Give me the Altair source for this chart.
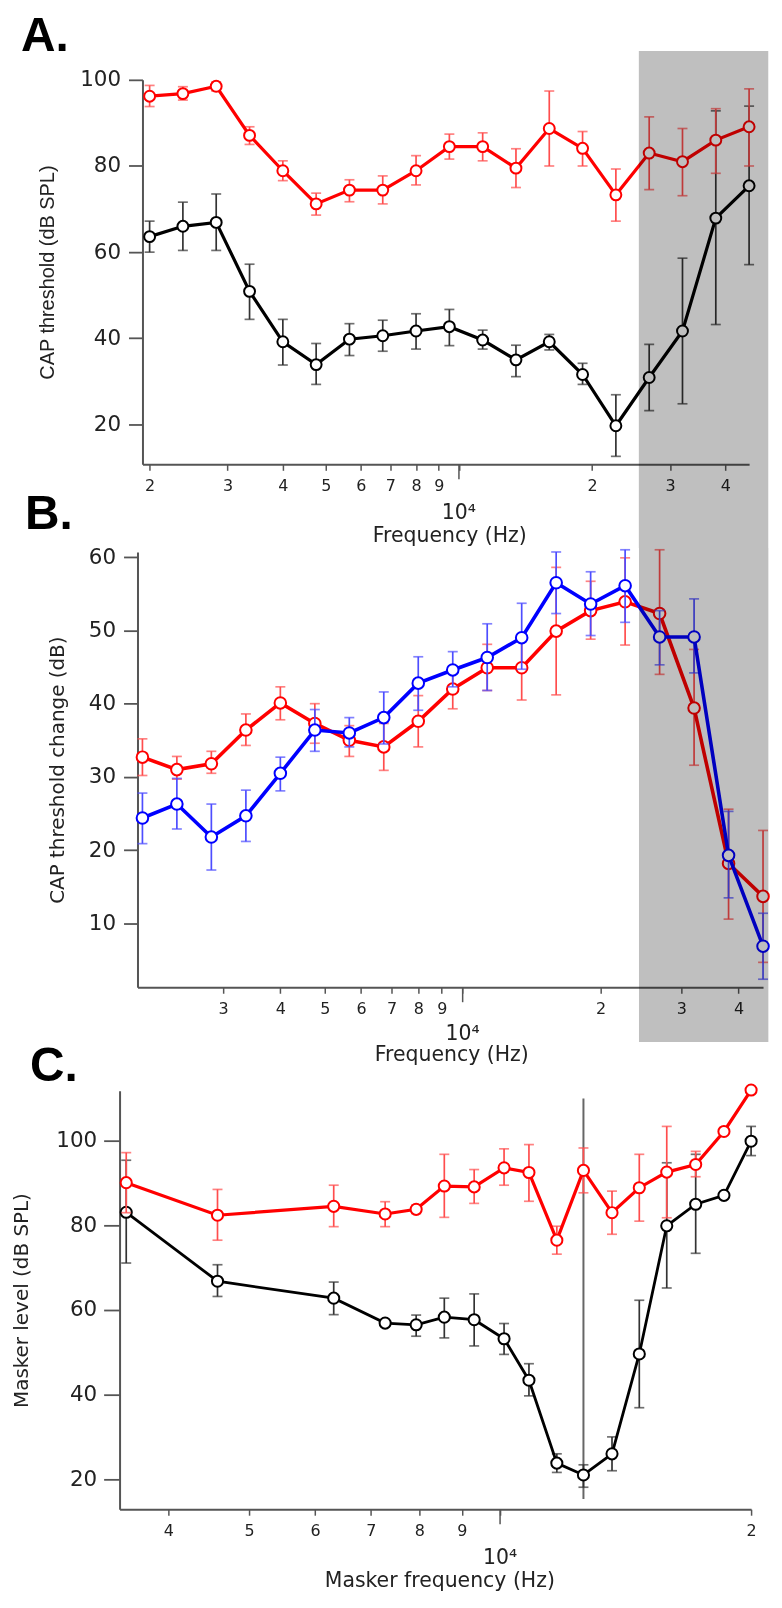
import altair as alt
import pandas as pd

# ---------------- data ----------------
# Panels A and B: probe frequencies (Hz)
freq_ab = [2000, 2378, 2828, 3364, 4000, 4757, 5657, 6727, 8000, 9514,
           11314, 13454, 16000, 19027, 22627, 26909, 32000, 38055, 45255]

# Panel A: CAP threshold (dB SPL)
a_red = [96.2, 96.8, 98.5, 87.1, 78.9, 71.2, 74.4, 74.4, 78.9, 84.5,
         84.5, 79.5, 88.7, 84.1, 73.3, 83.0, 81.0, 86.0, 89.1]
a_red_hi = [98.7, 98.4, 99.5, 89.1, 81.2, 73.7, 76.8, 77.7, 82.4, 87.4,
            87.7, 84.0, 97.4, 88.0, 79.3, 91.4, 88.7, 93.3, 97.9]
a_red_lo = [93.8, 95.3, 97.4, 85.0, 76.6, 68.6, 71.7, 71.2, 75.6, 81.6,
            81.2, 75.0, 80.0, 80.0, 67.2, 74.5, 73.1, 78.3, 80.0]
a_black = [63.6, 66.0, 66.9, 50.9, 39.2, 33.9, 39.8, 40.6, 41.7, 42.7,
           39.6, 35.0, 39.2, 31.6, 19.7, 30.9, 41.7, 67.9, 75.4]
a_black_hi = [67.2, 71.6, 73.5, 57.2, 44.4, 38.8, 43.4, 44.2, 45.7, 46.7,
              41.9, 38.4, 40.9, 34.2, 26.9, 38.6, 58.6, 92.8, 93.9]
a_black_lo = [60.0, 60.4, 60.4, 44.4, 33.8, 29.3, 36.0, 37.0, 37.5, 38.3,
              37.5, 31.1, 37.3, 29.3, 12.6, 23.2, 24.8, 43.2, 57.1]

# Panel B: CAP threshold change (dB)
b_red = [32.7, 31.0, 31.8, 36.4, 40.1, 37.3, 35.0, 34.1, 37.6, 42.0,
         44.9, 44.9, 49.9, 52.7, 53.9, 52.3, 39.4, 18.2, 13.7]
b_red_hi = [35.2, 32.8, 33.5, 38.6, 42.3, 40.0, 37.0, 37.3, 41.1, 44.3,
            48.1, 49.3, 58.6, 56.7, 59.9, 61.0, 47.4, 25.6, 22.7]
b_red_lo = [30.2, 29.7, 30.5, 34.3, 37.8, 34.6, 32.8, 30.9, 34.1, 39.3,
            41.8, 40.5, 41.2, 48.8, 48.0, 44.0, 31.6, 10.6, 4.7]
b_blue = [24.4, 26.3, 21.8, 24.7, 30.5, 36.4, 36.0, 38.1, 42.8, 44.6,
          46.3, 49.0, 56.5, 53.6, 56.1, 49.1, 49.1, 19.3, 6.9]
b_blue_hi = [27.8, 29.8, 26.3, 28.2, 32.7, 39.2, 38.1, 41.6, 46.4, 47.1,
             50.9, 53.7, 60.7, 58.0, 61.0, 52.7, 54.3, 25.3, 11.4]
b_blue_lo = [20.9, 22.9, 17.3, 21.2, 28.1, 33.5, 34.1, 34.5, 39.1, 42.3,
             41.8, 44.7, 52.3, 49.3, 51.1, 45.3, 44.2, 13.5, 2.4]

# Panel C: masker frequencies (Hz) and masker level (dB SPL)
freq_c = [3562, 4583, 6317, 7281, 7932, 8573, 9310, 10111, 10830, 11697,
          12589, 13622, 14688, 15845, 17163, 18556, 20000]
c_red = [90.1, 82.4, 84.5, 82.7, 83.8, 89.3, 89.1, 93.6, 92.5, 76.5,
         93.0, 83.0, 88.9, 92.6, 94.4, 102.2, 112.0]
c_red_hi = [97.2, 88.5, 89.5, 85.6, 84.8, 96.8, 93.2, 98.1, 99.1, 79.8,
            98.3, 88.1, 96.8, 103.4, 97.5, 102.2, 112.0]
c_red_lo = [83.0, 76.5, 79.7, 79.7, 82.8, 81.9, 85.2, 89.5, 85.7, 73.2,
            87.7, 77.9, 81.0, 81.8, 91.5, 102.2, 112.0]
c_black = [83.1, 66.8, 62.8, 56.9, 56.5, 58.3, 57.7, 53.2, 43.4, 23.8,
           21.0, 26.0, 49.6, 79.9, 85.0, 87.1, 99.9]
c_black_hi = [95.4, 70.7, 66.6, 57.5, 58.8, 62.8, 63.8, 56.8, 47.3, 26.0,
              23.4, 30.0, 62.3, 94.8, 96.8, 87.1, 103.4]
c_black_lo = [71.1, 63.2, 58.9, 56.3, 53.8, 53.4, 51.5, 49.5, 39.7, 21.6,
              18.1, 22.0, 36.9, 65.2, 73.4, 87.1, 96.5]

# shaded frequency band (Hz) in panels A and B, probe line in C
band_a = [25500, 50000]
band_b = [24260, 46480]
probe_freq = [12589]
probe_top = [110.0]
probe_bottom = [15.3]

# axis ticks
ticks_a = [2000, 3000, 4000, 5000, 6000, 7000, 8000, 9000, 10000, 20000, 30000, 40000]
ticks_b = [3000, 4000, 5000, 6000, 7000, 8000, 9000, 10000, 20000, 30000, 40000]
ticks_c = [4000, 5000, 6000, 7000, 8000, 9000, 10000, 20000]
decade_label = ["10\u2074"]
letters = ["A.", "B.", "C."]

# ---------------- styling ----------------
GRAY = "#555555"
TXT = "#222222"
LABEL_EXPR = ("datum.value == 10000 ? '' : format(datum.value < 10000 ? "
              "datum.value / 1000 : datum.value / 10000, 'd')")
ONE = pd.DataFrame({"k": [0]})


def xaxis(ticks, title, title_x, title_y):
    return alt.Axis(values=ticks, labelExpr=LABEL_EXPR, tickSize=6, tickWidth=1.5,
                    tickColor=GRAY, domainColor=GRAY, domainWidth=2, labelPadding=7,
                    labelFont="DejaVu Sans", labelFontSize=16, labelColor=TXT,
                    labelFlush=False, labelOverlap=False, grid=False,
                    title=title, titleFont="DejaVu Sans", titleFontSize=20.5,
                    titleFontWeight="normal", titleColor=TXT, titleX=title_x,
                    titleY=title_y, titleBaseline="alphabetic", titleAlign="center")


def yaxis(values, title, title_x, title_font, tick, pad, offset=0):
    return alt.Axis(values=values, tickSize=tick, tickWidth=1.8, tickColor=GRAY,
                    domainColor=GRAY, domainWidth=2, labelPadding=pad,
                    labelFont="DejaVu Sans", labelFontSize=21.5, labelColor=TXT,
                    labelFlush=False, grid=False, offset=offset, title=title,
                    titleFont=title_font, titleFontSize=20, titleFontWeight="normal",
                    titleColor=TXT, titleX=title_x)


def series(freq, val, lo, hi, color, ecolor, lw, X, Y, size):
    df = pd.DataFrame({"f": freq, "v": val, "lo": lo, "hi": hi})
    base = alt.Chart(df)
    return [
        base.mark_rule(color=ecolor, strokeWidth=1.7).encode(x=X, y=Y("lo"), y2="hi"),
        base.mark_tick(color=ecolor, orient="horizontal", size=10, thickness=1.7).encode(x=X, y=Y("lo")),
        base.mark_tick(color=ecolor, orient="horizontal", size=10, thickness=1.7).encode(x=X, y=Y("hi")),
        base.mark_line(color=color, strokeWidth=lw).encode(x=X, y=Y("v")),
        base.mark_point(shape="circle", filled=True, fill="white", stroke=color,
                        strokeWidth=2, size=size, opacity=1).encode(x=X, y=Y("v")),
    ]


def letter(text, x, y):
    return alt.Chart(pd.DataFrame({"t": [text]})).mark_text(
        font="Liberation Sans", fontWeight="bold", fontSize=48, align="left",
        baseline="alphabetic", color="black").encode(text="t:N", x=alt.value(x), y=alt.value(y))


def decade(X_h, y):
    return alt.Chart(pd.DataFrame({"t": decade_label, "f": [10000]})).mark_text(
        font="DejaVu Sans", fontSize=20.5, align="center", baseline="alphabetic",
        color=TXT).encode(text="t:N", x=alt.X("f:Q"), y=alt.value(y))


def long_tick(h):
    return alt.Chart(pd.DataFrame({"f": [10000]})).mark_rule(
        color=GRAY, strokeWidth=1.5).encode(x=alt.X("f:Q"), y=alt.value(h), y2=alt.value(h + 15))


# ---------------- panel A ----------------
HA, WA = 386, 609
XA = alt.X("f:Q", scale=alt.Scale(type="log", domain=[1927, 45255], nice=False, zero=False),
           axis=xaxis(ticks_a, "Frequency (Hz)", 308, 77))


def YA(field):
    return alt.Y(field + ":Q", scale=alt.Scale(domain=[10.75, 100], nice=False, zero=False),
                 axis=yaxis([20, 40, 60, 80, 100], "CAP threshold (dB SPL)", -85,
                            "Liberation Sans", 14, 8))


band_a_chart = alt.Chart(pd.DataFrame({"lo": [band_a[0]], "hi": [band_a[1]]})).mark_rect(
    color="#bfbfbf", blend="multiply").encode(x="lo:Q", x2="hi:Q", y=alt.value(-29), y2=alt.value(470))

spacer = alt.Chart(ONE).mark_rule(color="white", strokeWidth=0).encode(
    x=alt.value(-135), y=alt.value(-69), y2=alt.value(-60))

panel_a = alt.layer(
    spacer,
    *series(freq_ab, a_black, a_black_lo, a_black_hi, "black", "#333333", 3.2, XA, YA, 120),
    *series(freq_ab, a_red, a_red_lo, a_red_hi, "#ff0000", "#ff4d4d", 3.2, XA, YA, 120),
    long_tick(HA),
    decade(XA, HA + 55),
    band_a_chart,
    letter(letters[0], -122, -29),
).properties(width=WA, height=HA)

# ---------------- panel B ----------------
HB, WB = 437, 623
XB = alt.X("f:Q", scale=alt.Scale(type="log", domain=[1951, 45255], range=[-5, 623],
                                  nice=False, zero=False),
           axis=xaxis(ticks_b, "Frequency (Hz)", 310, 74))


def YB(field):
    return alt.Y(field + ":Q", scale=alt.Scale(domain=[1.3, 60.7], nice=False, zero=False),
                 axis=yaxis([10, 20, 30, 40, 50, 60], "CAP threshold change (dB)", -70,
                            "DejaVu Sans", 14, 8, offset=5))


band_b_chart = alt.Chart(pd.DataFrame({"lo": [band_b[0]], "hi": [band_b[1]]})).mark_rect(
    color="#bfbfbf", blend="multiply").encode(x="lo:Q", x2="hi:Q", y=alt.value(-4), y2=alt.value(492))

panel_b = alt.layer(
    *series(freq_ab, b_red, b_red_lo, b_red_hi, "#ff0000", "#ff4d4d", 3.6, XB, YB, 135),
    *series(freq_ab, b_blue, b_blue_lo, b_blue_hi, "#0000ff", "#4d4dff", 3.6, XB, YB, 135),
    long_tick(HB),
    decade(XB, HB + 53),
    band_b_chart,
    letter(letters[1], -118, -23),
).properties(width=WB, height=HB)

# ---------------- panel C ----------------
HC, WC = 436, 611
XC = alt.X("f:Q", scale=alt.Scale(type="log", domain=[3497, 20000], range=[-23, 611],
                                  nice=False, zero=False),
           axis=xaxis(ticks_c, "Masker frequency (Hz)", 298, 78))


def YC(field):
    return alt.Y(field + ":Q", scale=alt.Scale(domain=[12.9, 111.8], range=[436, 16],
                                               nice=False, zero=False),
                 axis=yaxis([20, 40, 60, 80, 100], "Masker level  (dB SPL)", -88,
                            "DejaVu Sans", 16, 7, offset=23))


probe = alt.Chart(pd.DataFrame({"f": probe_freq, "top": probe_top, "bot": probe_bottom})).mark_rule(
    color="#666666", strokeWidth=2).encode(x=XC, y=YC("top"), y2="bot")

panel_c = alt.layer(
    probe,
    *series(freq_c, c_black, c_black_lo, c_black_hi, "black", "#333333", 2.8, XC, YC, 125),
    *series(freq_c, c_red, c_red_lo, c_red_hi, "#ff0000", "#ff4d4d", 3.2, XC, YC, 125),
    long_tick(HC),
    decade(XC, HC + 55),
    letter(letters[2], -113, 6),
).properties(width=WC, height=HC)

chart = alt.vconcat(panel_a, panel_b, panel_c, spacing=88, bounds="flush").properties(
    padding=0, background="white").configure_view(strokeWidth=0)

chart.save("out.html", embed_options={"renderer": "svg", "actions": False})
